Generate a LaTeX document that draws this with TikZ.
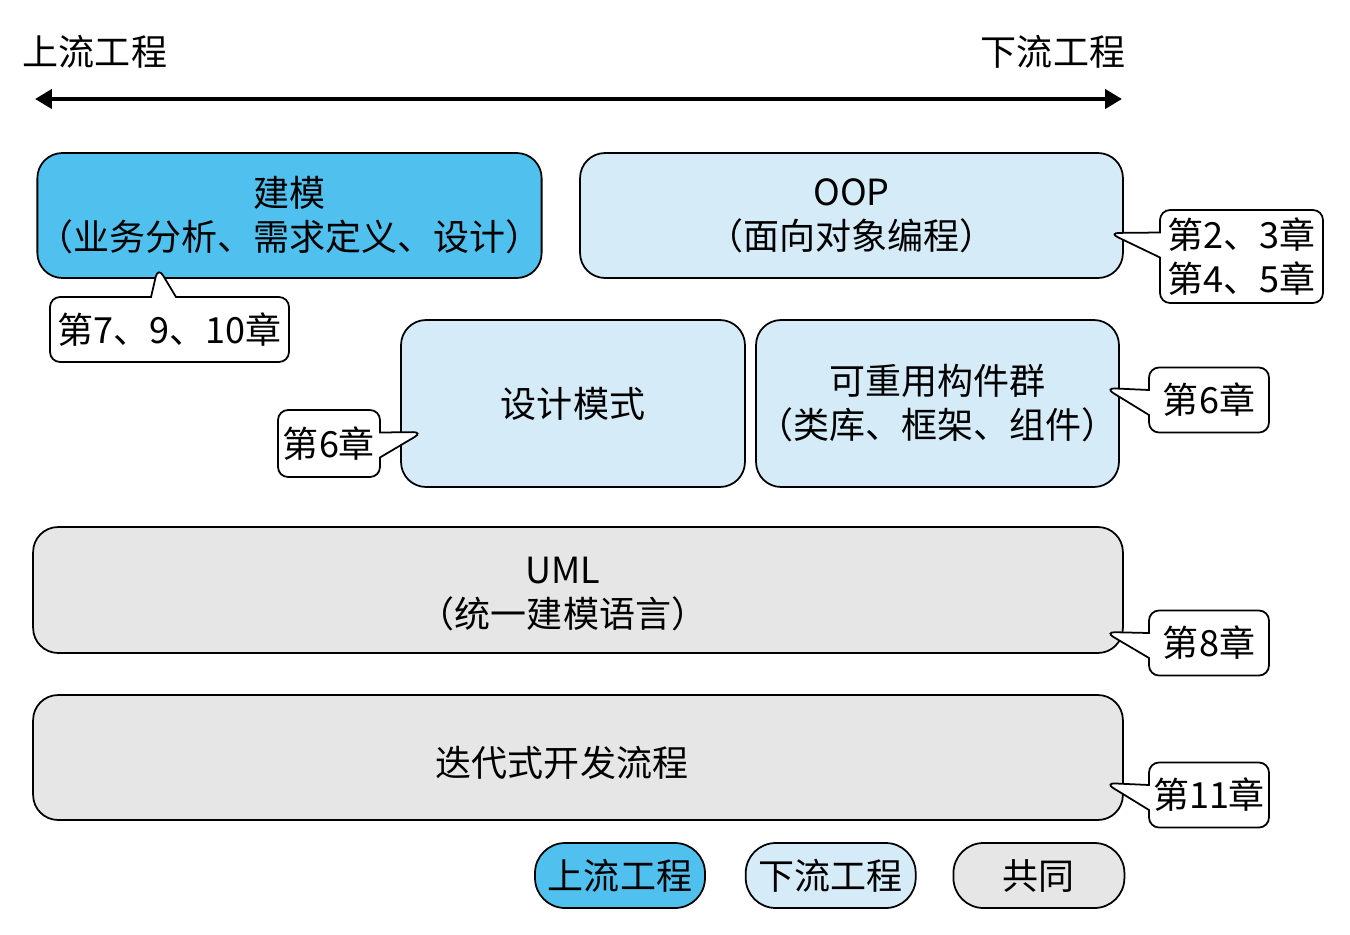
\documentclass[tikz,border=0pt]{standalone}
\usepackage{fontspec}
\setmainfont{Noto Sans CJK SC}
\usetikzlibrary{positioning,shapes.callouts,arrows.meta}

\definecolor{upcol}{RGB}{80,193,238}
\definecolor{downcol}{RGB}{213,235,248}
\definecolor{comcol}{RGB}{230,230,230}

\tikzset{
  box/.style={draw, line width=1pt, rounded corners=0.5cm, align=center, inner sep=0pt},
  note/.style={rectangle callout, draw, fill=white, line width=1pt, rounded corners=0.2cm,
    callout pointer width=0.5cm, align=center, inner sep=0pt, minimum height=1.3cm},
  tag/.style={draw, line width=1pt, rounded corners=0.6cm, minimum width=3.4cm,
    minimum height=1.3cm, inner sep=0pt}
}

\begin{document}
\begin{tikzpicture}[x=0.02cm, y=-0.02cm, node distance=0.78cm,
    font=\fontsize{20.5pt}{25pt}\selectfont]
  \useasboundingbox (0,0) rectangle (1350,934);

  % upstream <-> downstream axis
  \coordinate (al) at (35,99);
  \coordinate (ar) at (1122,99);
  \draw[line width=2.6pt, {Triangle[length=0.34cm,width=0.38cm]}-{Triangle[length=0.34cm,width=0.38cm]}] (al) -- (ar);
  \node (uplbl) at (95,52) {上流工程};
  \node (downlbl) at (1053,52) {下流工程};

  % main boxes
  \node (model) [box, fill=upcol, minimum width=10.06cm, minimum height=2.5cm] at (289.5,215.5) {建模\\（业务分析、需求定义、设计）};
  \node (oop) [box, fill=downcol, minimum width=10.86cm, minimum height=2.5cm] at (851.5,215.5) {OOP\\（面向对象编程）};
  \node (pattern) [box, fill=downcol, minimum width=6.88cm, minimum height=3.34cm] at (573,403.5) {设计模式};
  \node (reuse) [box, fill=downcol, minimum width=7.26cm, minimum height=3.34cm] at (937.5,403.5) {可重用构件群\\（类库、框架、组件）};
  \node (uml) [box, fill=comcol, minimum width=21.8cm, minimum height=2.52cm,
    label={[align=center, xshift=-0.3cm, yshift=-0.08cm]center:UML\\（统一建模语言）}] at (578,590) {};
  \node (iter) [box, fill=comcol, minimum width=21.8cm, minimum height=2.5cm,
    label={[xshift=-0.32cm, yshift=-0.1cm]center:迭代式开发流程}] at (578,757.5) {};

  % chapter notes
  \coordinate (t1) at (158,267);
  \coordinate (t2) at (1109,233);
  \coordinate (t3) at (423,432);
  \coordinate (t4) at (1105,388);
  \coordinate (t5) at (1105,632);
  \coordinate (t6) at (1105,783);
  \node (n1) [note, minimum width=4.78cm, callout absolute pointer=(t1)] at (169.5,329.5) {第7、9、10章};
  \node (n2) [note, minimum width=3.26cm, minimum height=1.86cm, callout absolute pointer=(t2)] at (1241.5,256.5) {第2、3章\\第4、5章};
  \node (n3) [note, minimum width=2.04cm, minimum height=1.34cm, callout absolute pointer=(t3)] at (329,443.5) {第6章};
  \node (n4) [note, minimum width=2.4cm, callout absolute pointer=(t4)] at (1209,400) {第6章};
  \node (n5) [note, minimum width=2.4cm, callout absolute pointer=(t5)] at (1209,643) {第8章};
  \node (n6) [note, minimum width=2.4cm, callout absolute pointer=(t6)] at (1209,795) {第11章};

  % legend
  \node (lgup) [tag, fill=upcol] at (620,875.5) {上流工程};
  \node (lgdown) [tag, fill=downcol, right=of lgup] {下流工程};
  \node (lgcom) [tag, fill=comcol, minimum width=3.42cm, right=0.72cm of lgdown] {共同};
\end{tikzpicture}
\end{document}
